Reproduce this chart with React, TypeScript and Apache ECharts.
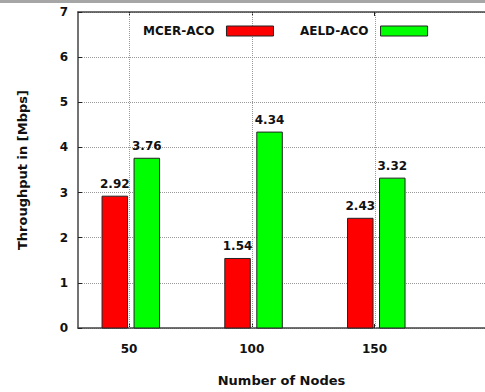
import React, { useEffect, useRef } from "react";
import * as echarts from "echarts";

const nodes = ["50", "100", "150"];
const mcerAco = [2.92, 1.54, 2.43];
const aeldAco = [3.76, 4.34, 3.32];
const seriesNames = ["MCER-ACO", "AELD-ACO"];
const yTicks = [0, 1, 2, 3, 4, 5, 6, 7];

const FONT = "DejaVu Sans";
const BAR_W = 25.5;
const BAR_OFFSETS = [-27, 5]; // left edge of each series' bar relative to category centre (px)

export default function App() {
  const ref = useRef<HTMLDivElement>(null);
  useEffect(() => {
    if (!ref.current) return;
    const chart = echarts.init(ref.current, null, { renderer: "svg" });
    const idx = nodes.map((_, i) => i);
    const toData = (arr: number[]) => arr.map((v, i) => [i, v]);
    const grid = { lineStyle: { color: "#999", type: "dotted" as const, width: 1 } };
    const axisLine = { show: true, onZero: false, lineStyle: { color: "#444", width: 1.5 } };
    const yMin = yTicks[0];
    const yMax = yTicks[yTicks.length - 1];
    const topBand = {
      id: "topband",
      type: "rect",
      left: 0,
      top: 0,
      shape: { width: 485, height: 3 },
      style: { fill: "#a6a6a6" },
    };
    const mkSeries = (si: number, arr: number[], color: string) => ({
      name: seriesNames[si],
      type: "custom",
      xAxisIndex: 0,
      yAxisIndex: 0,
      data: toData(arr),
      z: 3,
      itemStyle: { color, borderColor: "#222", borderWidth: 1 },
      encode: { x: 0, y: 1 },
      renderItem: (params: any, api: any) => {
        const x = api.value(0);
        const v = api.value(1);
        const base = api.coord([x, 0]);
        const top = api.coord([x, v]);
        const left = base[0] + BAR_OFFSETS[si];
        return {
          type: "group",
          children: [
            {
              type: "rect",
              shape: { x: left, y: top[1], width: BAR_W, height: base[1] - top[1] },
              style: { fill: color, stroke: "#222", lineWidth: 1 },
            },
            {
              type: "text",
              x: left + BAR_W / 2,
              y: top[1] - 6,
              style: {
                text: Number(v).toFixed(2),
                fill: "#111",
                font: `bold 12px "${FONT}"`,
                align: "center",
                verticalAlign: "bottom",
              },
            },
          ],
        };
      },
    });
    chart.setOption({
      animation: false,
      backgroundColor: "#fff",
      textStyle: { fontFamily: FONT },
      graphic: [topBand],
      grid: { left: 78, top: 12, width: 414, bottom: 64 },
      legend: {
        data: seriesNames,
        left: 138,
        top: 20,
        align: "right",
        itemWidth: 47,
        itemHeight: 10,
        itemGap: 26,
        icon: "rect",
        itemStyle: { borderColor: "#222", borderWidth: 1 },
        textStyle: {
          fontFamily: FONT,
          fontWeight: "bold",
          fontSize: 12,
          color: "#111",
          padding: [0, 7, 0, 0],
        },
      },
      xAxis: [
        {
          type: "value",
          position: "bottom",
          min: -0.416,
          max: 2.9,
          axisLine,
          axisTick: { show: true, inside: true, length: 4, customValues: idx, lineStyle: { color: "#222" } },
          axisLabel: {
            customValues: idx,
            margin: 15,
            fontFamily: FONT,
            fontWeight: "bold",
            fontSize: 12,
            color: "#111",
            formatter: (v: number) => nodes[Math.round(v)] ?? "",
          },
          splitLine: { show: false },
          name: "Number of Nodes",
          nameLocation: "middle",
          nameGap: 46,
          nameTextStyle: { fontFamily: FONT, fontWeight: "bold", fontSize: 13, color: "#111" },
        },
        {
          type: "value",
          position: "top",
          min: -0.416,
          max: 2.9,
          axisLine,
          axisTick: { show: true, inside: true, length: 4, customValues: idx, lineStyle: { color: "#222" } },
          axisLabel: { show: false },
          splitLine: { show: false },
        },
      ],
      yAxis: {
        type: "value",
        min: yMin,
        max: yMax,
        interval: 1,
        axisLine,
        axisTick: { show: true, inside: true, length: 4, lineStyle: { color: "#222" } },
        axisLabel: {
          margin: 10,
          fontFamily: FONT,
          fontWeight: "bold",
          fontSize: 12,
          color: "#111",
        },
        splitLine: { show: true, ...grid },
        name: "Throughput in [Mbps]",
        nameLocation: "middle",
        nameRotate: 90,
        nameGap: 49,
        nameTextStyle: { fontFamily: FONT, fontWeight: "bold", fontSize: 13, color: "#111" },
      },
      series: [mkSeries(0, mcerAco, "#ff0000"), mkSeries(1, aeldAco, "#00ff00")],
    });

    // vertical dotted grid lines at each category, positioned through the axis scales
    const vLines = idx.map((i) => {
      const p0 = chart.convertToPixel({ xAxisIndex: 0, yAxisIndex: 0 }, [i, yMin]) as number[];
      const p1 = chart.convertToPixel({ xAxisIndex: 0, yAxisIndex: 0 }, [i, yMax]) as number[];
      const gx = Math.round(p0[0]) + 0.5;
      return {
        id: "vgrid" + i,
        type: "line",
        z: 1,
        silent: true,
        shape: { x1: gx, y1: p0[1], x2: gx, y2: p1[1] },
        style: { stroke: "#999", lineWidth: 1, lineDash: [1, 1] },
      };
    });
    chart.setOption({ graphic: [topBand, ...vLines] });

    return () => chart.dispose();
  }, []);
  return (
    <div
      ref={ref}
      style={{ position: "absolute", left: 0, top: 0, width: 485, height: 392 }}
    />
  );
}
